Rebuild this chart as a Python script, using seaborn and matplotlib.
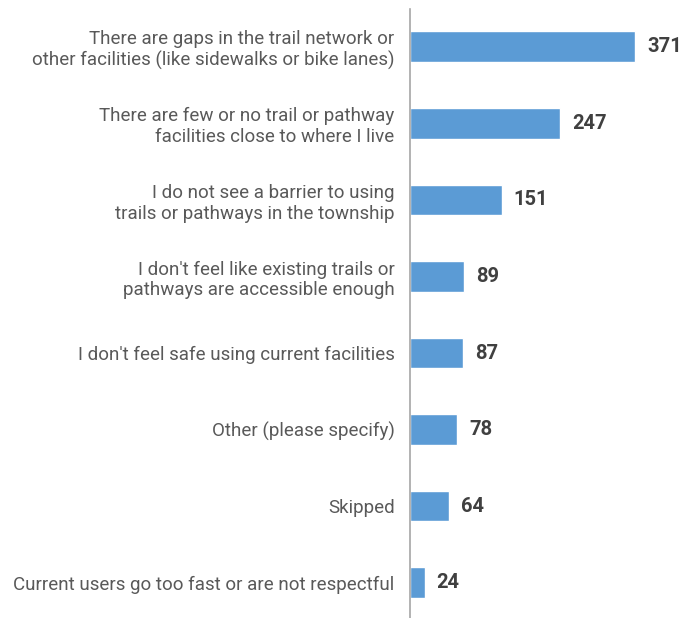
import matplotlib
matplotlib.use("Agg")
import matplotlib.pyplot as plt
from matplotlib import font_manager
import seaborn as sns
import pandas as pd

# ----- Data -----
categories = [
    "There are gaps in the trail network or\nother facilities (like sidewalks or bike lanes)",
    "There are few or no trail or pathway\nfacilities close to where I live",
    "I do not see a barrier to using\ntrails or pathways in the township",
    "I don't feel like existing trails or\npathways are accessible enough",
    "I don't feel safe using current facilities",
    "Other (please specify)",
    "Skipped",
    "Current users go too fast or are not respectful",
]
counts = [371, 247, 151, 89, 87, 78, 64, 24]

df = pd.DataFrame({"category": categories, "count": counts})

sns.set_style("white")
names = {f.name for f in font_manager.fontManager.ttflist}
family = "Liberation Sans Narrow" if "Liberation Sans Narrow" in names else "Roboto"
plt.rcParams["font.family"] = [family, "DejaVu Sans"]

fig = plt.figure(figsize=(6.85, 6.18), dpi=100)
# axes spans a little past the bottom edge so the bars line up with the reference
ax = fig.add_axes([410 / 685, 1 - 621 / 618, 275 / 685, 612.5 / 618])

sns.barplot(data=df, x="count", y="category", color="#5B9BD5", width=0.4,
            saturation=1, ax=ax)

ax.set_xlim(0, 453)
ax.set_ylim(7.5, -0.5)
ax.set_xlabel("")
ax.set_ylabel("")
ax.set_xticks([])
ax.tick_params(axis="y", length=0, pad=11, labelsize=13.5, labelcolor="#595959")
for sp in ["top", "right", "bottom"]:
    ax.spines[sp].set_visible(False)
ax.spines["left"].set_color("#A6A6A6")
ax.spines["left"].set_linewidth(1.2)

for i, v in enumerate(counts):
    ax.text(v + 20, i, str(v), va="center", ha="left", fontsize=14.5,
            fontweight="bold", color="#404040")

fig.savefig("out.png", dpi=100)
